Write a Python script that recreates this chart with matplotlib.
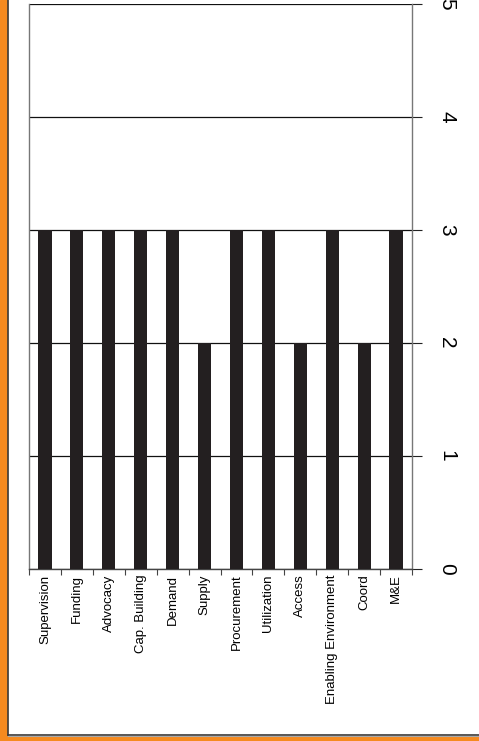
import matplotlib
matplotlib.use("Agg")
import matplotlib.pyplot as plt
from matplotlib.patches import Rectangle
from matplotlib.lines import Line2D
import numpy as np

categories = ["Supervision", "Funding", "Advocacy", "Cap. Building", "Demand", "Supply",
              "Procurement", "Utilization", "Access", "Enabling Environment", "Coord", "M&E"]
values = [3, 3, 3, 3, 3, 2, 3, 3, 2, 3, 2, 3]
yticks = [0, 1, 2, 3, 4, 5]

plt.rcParams['font.family'] = ['Liberation Sans', 'DejaVu Sans']

W, H = 479, 741
fig = plt.figure(figsize=(W / 100, H / 100), dpi=100)
fig.patch.set_facecolor("white")

# orange frame
fig.patches.append(Rectangle((0, 0), 7 / W, 1, transform=fig.transFigure, color="#f58a1f", zorder=0))
fig.patches.append(Rectangle((0, 0), 1, 5 / H, transform=fig.transFigure, color="#f58a1f", zorder=0))
fig.lines.append(Line2D([7.5 / W, 7.5 / W], [6 / H, 1], transform=fig.transFigure, color="#3a3a3a", lw=1.2))
fig.lines.append(Line2D([7.5 / W, 1], [6 / H, 6 / H], transform=fig.transFigure, color="#3a3a3a", lw=1.2))
fig.lines.append(Line2D([7.5 / W, 1], [5 / H, 5 / H], transform=fig.transFigure, color="#aaaaaa", lw=0.8))

ax = fig.add_axes([29 / W, 172 / H, (412 - 29) / W, (569 - 4) / H])
x = np.arange(len(categories))
ax.bar(x, values, width=0.41, color="#231f20", zorder=3)
ax.set_xlim(-0.5, len(categories) - 0.5)
ax.set_ylim(0, 5)

ax.set_yticks(yticks)
ax.set_yticklabels([str(t) for t in yticks], rotation=-90, fontsize=15, va="center", ha="left")
ax.yaxis.tick_right()
ax.tick_params(axis="y", which="major", length=7, width=0.8, color="#222222", pad=11, right=True, left=False)
ax.yaxis.grid(True, color="#111111", lw=0.9, zorder=0)

ax.set_xticks(x)
ax.set_xticklabels(categories, rotation=90, fontsize=9.5, va="top", ha="center")
ax.set_xticks(np.arange(-0.5, len(categories), 1), minor=True)
ax.tick_params(axis="x", which="major", length=0, pad=4)
ax.tick_params(axis="x", which="minor", length=4, width=0.8, color="#444444")

for s in ["left", "right"]:
    ax.spines[s].set_color("#777777")
    ax.spines[s].set_linewidth(1.0)
ax.spines["bottom"].set_color("#444444")
ax.spines["bottom"].set_linewidth(1.0)
ax.spines["top"].set_visible(False)

fig.savefig("out.png", dpi=100)
